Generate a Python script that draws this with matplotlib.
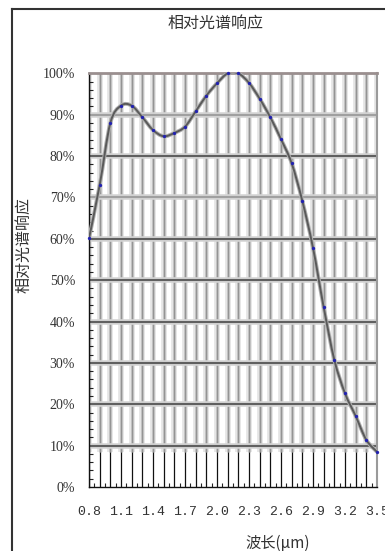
import numpy as np
import matplotlib.pyplot as plt
from matplotlib.path import Path
from matplotlib.patches import PathPatch
from matplotlib.lines import Line2D
from matplotlib.ticker import FixedLocator

# wavelength (um) and relative response (%)
wavelength = [0.8, 0.9, 1.0, 1.1, 1.2, 1.3, 1.4, 1.5, 1.6, 1.7,
              1.8, 1.9, 2.0, 2.1, 2.2, 2.3, 2.4, 2.5, 2.6, 2.7,
              2.8, 2.9, 3.0, 3.1, 3.2, 3.3, 3.4, 3.5]
response = [60.1, 73.0, 88.0, 92.2, 92.2, 89.4, 86.3, 84.8, 85.6, 87.1,
            90.8, 94.6, 97.6, 100.0, 100.0, 97.7, 93.9, 89.4, 84.1, 78.3,
            69.2, 57.9, 43.6, 30.8, 22.7, 17.2, 11.4, 8.5]

xtick_pos = [0.8, 1.1, 1.4, 1.7, 2.0, 2.3, 2.6, 2.9, 3.2, 3.5]
xtick_labels = ["0.8", "1.1", "1.4", "1.7", "2.0", "2.3", "2.6", "2.9", "3.2", "3.5"]
ytick_pos = [0, 10, 20, 30, 40, 50, 60, 70, 80, 90, 100]
ytick_labels = ["0%", "10%", "20%", "30%", "40%", "50%", "60%", "70%", "80%", "90%", "100%"]

title = "相对光谱响应"
ylabel = "相对光谱响应"
xlabel = "波长(μm)"

CJK = ['Noto Sans CJK SC', 'DejaVu Sans']
TXT = '#333333'


def smooth_path(xs, ys):
    """Catmull-Rom through the points, as cubic bezier segments."""
    pts = np.column_stack([xs, ys]).astype(float)
    n = len(pts)
    verts = [pts[0]]
    codes = [Path.MOVETO]
    for i in range(n - 1):
        p0 = pts[max(i - 1, 0)]
        p1 = pts[i]
        p2 = pts[i + 1]
        p3 = pts[min(i + 2, n - 1)]
        c1 = p1 + (p2 - p0) / 6.0
        c2 = p2 - (p3 - p1) / 6.0
        verts += [c1, c2, p2]
        codes += [Path.CURVE4] * 3
    return Path(verts, codes)


fig = plt.figure(figsize=(3.85, 5.51), dpi=100)
ax = fig.add_axes([0.2312, 0.1162, 0.979 - 0.2312, 0.8668 - 0.1162])
ax.set_xlim(0.8, 3.5)
ax.set_ylim(0, 100)

# textured grid area (ends a bit under 10%)
grid_floor = 8.5
ax.vlines(wavelength, grid_floor, 100, colors='#e6e6e6', lw=4.2, zorder=1)
ax.vlines(wavelength, grid_floor, 100, colors='#c4c4c4', lw=2.2, zorder=1)
ax.vlines(wavelength, grid_floor, 100, colors='#949494', lw=0.8, zorder=1)
for v in ytick_pos[1:-1]:
    core = '#a0a0a0' if v in (70, 90) else '#606060'
    ax.hlines(v, 0.8, 3.5, colors='#d4d4d4', lw=4.0, zorder=2)
    ax.hlines(v, 0.8, 3.5, colors=core, lw=1.5, zorder=2)

# plain area underneath
ax.vlines(wavelength, 0, grid_floor, colors='#111111', lw=0.9, zorder=1)

# curve
path = smooth_path(wavelength, response)
ax.add_patch(PathPatch(path, facecolor='none', edgecolor='#b0b0b0', lw=2.8, zorder=3))
ax.add_patch(PathPatch(path, facecolor='none', edgecolor='#5a5a5a', lw=1.4, zorder=4))
ax.plot(wavelength, response, ls='none', marker='o', ms=2.4, mec='none',
        mfc='#2222b0', zorder=5, clip_on=False)

# spines
for s in ['left', 'bottom']:
    ax.spines[s].set_color('#111111')
    ax.spines[s].set_linewidth(1.0)
ax.spines['top'].set_color('#9a8f8f')
ax.spines['top'].set_linewidth(2.0)
ax.spines['right'].set_color('#9a9a9a')
ax.spines['right'].set_linewidth(1.5)

# ticks
ax.set_xticks(xtick_pos)
ax.set_xticklabels(xtick_labels, family='Liberation Mono', fontsize=9.5, color=TXT)
ax.set_yticks(ytick_pos)
ax.set_yticklabels(ytick_labels, family='Liberation Serif', fontsize=10, color=TXT)
ax.tick_params(axis='x', which='major', length=0, pad=14)
ax.tick_params(axis='y', which='major', length=0, pad=10)
ax.xaxis.set_minor_locator(FixedLocator(np.arange(0.85, 3.5, 0.1)))
ax.yaxis.set_minor_locator(FixedLocator(np.arange(2, 100, 2)))
ax.tick_params(which='minor', direction='in', length=3, width=0.8, color='#222222')

fig.text(0.561, 0.958, title, ha='center', va='center', fontsize=11.5,
         family=CJK, color=TXT)
fig.text(0.061, 0.555, ylabel, ha='center', va='center', rotation=90,
         fontsize=11.5, family=CJK, color=TXT)
fig.text(0.72, 0.014, xlabel, ha='center', va='center', fontsize=11,
         family=CJK, color=TXT)

# outer frame (left and top edges only are visible)
fig.add_artist(Line2D([0.031, 0.031], [0.9837, 0.0], color='#333333', lw=1.5,
                      transform=fig.transFigure))
fig.add_artist(Line2D([0.031, 1.0], [0.9837, 0.9837], color='#333333', lw=1.5,
                      transform=fig.transFigure))

fig.savefig('out.png', dpi=100)
